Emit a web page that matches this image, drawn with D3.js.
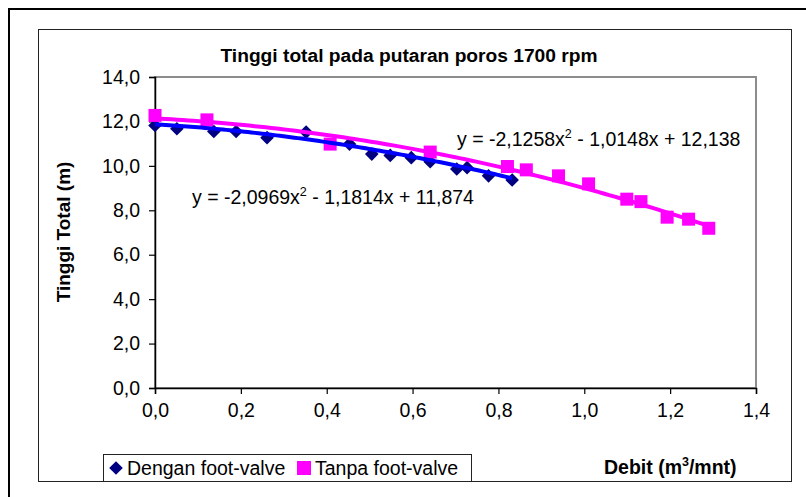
<!DOCTYPE html>
<html>
<head>
<meta charset="utf-8">
<script src="https://cdn.jsdelivr.net/npm/d3@7"></script>
<style>
  html, body { margin: 0; padding: 0; background: #fff; }
  svg { display: block; font-family: "Liberation Sans", Arial, sans-serif; }
</style>
</head>
<body>
<svg id="chart" width="806" height="497"></svg>
<script>
// Debit (m3/mnt) and total head (m) at 1700 rpm
const denganDebit = [0.000, 0.051, 0.137, 0.189, 0.261, 0.352, 0.453, 0.505, 0.548, 0.597, 0.641, 0.703, 0.727, 0.777, 0.832];
const denganHead  = [11.82, 11.67, 11.55, 11.55, 11.27, 11.52, 10.98, 10.53, 10.47, 10.37, 10.19, 9.86, 9.92, 9.55, 9.36];

const tanpaDebit = [0.000, 0.121, 0.408, 0.641, 0.821, 0.865, 0.940, 1.010, 1.099, 1.132, 1.193, 1.243, 1.290];
const tanpaHead  = [12.27, 12.07, 10.98, 10.62, 9.97, 9.82, 9.55, 9.19, 8.50, 8.39, 7.69, 7.60, 7.19];

// Polynomial trendline coefficients [a, b, c] for y = a x^2 + b x + c
const denganFit = [-2.0969, -1.1814, 11.874];
const tanpaFit  = [-2.1258, -1.0148, 12.138];

const xTicks = [0, 0.2, 0.4, 0.6, 0.8, 1.0, 1.2, 1.4];
const yTicks = [0, 2, 4, 6, 8, 10, 12, 14];

const seriesNames = ["Dengan foot-valve", "Tanpa foot-valve"];
const titleText = "Tinggi total pada putaran poros 1700 rpm";

const svg = d3.select("#chart");
const fmt = v => d3.format(".1f")(v).replace(".", ",");
const FS = 19.5;

const plot = { left: 155, right: 756, top: 77, bottom: 388 };
const x = d3.scaleLinear().domain([0, 1.4]).range([plot.left, plot.right]);
const y = d3.scaleLinear().domain([0, 14]).range([plot.bottom, plot.top]);

// outer frame
svg.append("path")
  .attr("d", "M9,497 L9,9 L806,9")
  .attr("fill", "none").attr("stroke", "#000").attr("stroke-width", 2);

// chart area border
svg.append("rect")
  .attr("x", 38.5).attr("y", 29.5).attr("width", 753).attr("height", 452)
  .attr("fill", "#fff").attr("stroke", "#222").attr("stroke-width", 1);

// plot area border
svg.append("rect")
  .attr("x", plot.left).attr("y", plot.top)
  .attr("width", plot.right - plot.left).attr("height", plot.bottom - plot.top)
  .attr("fill", "none").attr("stroke", "#8c8c8c").attr("stroke-width", 2);

// title
svg.append("text")
  .attr("x", 409).attr("y", 62)
  .attr("text-anchor", "middle")
  .attr("font-weight", "bold").attr("font-size", 19.2)
  .text(titleText);

// axes
const yAxis = d3.axisLeft(y).tickValues(yTicks).tickFormat(fmt).tickSize(6).tickPadding(9);
const xAxis = d3.axisBottom(x).tickValues(xTicks).tickFormat(fmt).tickSize(6).tickPadding(9);

const gy = svg.append("g").attr("transform", `translate(${plot.left},0)`).call(yAxis);
const gx = svg.append("g").attr("transform", `translate(0,${plot.bottom})`).call(xAxis);
[gx, gy].forEach(g => {
  g.select(".domain").attr("stroke", "#000").attr("stroke-width", 1.5);
  g.selectAll(".tick line").attr("stroke", "#000").attr("stroke-width", 1.2);
  g.selectAll(".tick text").attr("fill", "#000").attr("font-size", FS)
    .attr("font-family", "Liberation Sans, Arial, sans-serif");
});

// axis titles
svg.append("text")
  .attr("transform", "translate(70,232) rotate(-90)")
  .attr("text-anchor", "middle")
  .attr("font-weight", "bold").attr("font-size", 19)
  .text("Tinggi Total (m)");

const xt = svg.append("text")
  .attr("x", 604).attr("y", 474)
  .attr("font-weight", "bold").attr("font-size", 19.5);
xt.append("tspan").text("Debit (m");
xt.append("tspan").attr("font-size", 12.5).attr("dy", -8).text("3");
xt.append("tspan").attr("dy", 8).text("/mnt)");

// markers
const diamondPath = r => `M0,${-r}L${r},0L0,${r}L${-r},0Z`;
svg.append("g").selectAll("path")
  .data(denganDebit.map((d, i) => [d, denganHead[i]]))
  .join("path")
  .attr("d", diamondPath(6.8))
  .attr("transform", d => `translate(${x(d[0])},${y(d[1])})`)
  .attr("fill", "#000080");

const sq = 13;
svg.append("g").selectAll("rect")
  .data(tanpaDebit.map((d, i) => [d, tanpaHead[i]]))
  .join("rect")
  .attr("x", d => x(d[0]) - sq / 2).attr("y", d => y(d[1]) - sq / 2)
  .attr("width", sq).attr("height", sq)
  .attr("fill", "#ff00ff");

// trendlines
function fitCurve(coef, xmax) {
  const pts = d3.range(0, 101).map(i => {
    const xv = xmax * i / 100;
    return [xv, coef[0] * xv * xv + coef[1] * xv + coef[2]];
  });
  return d3.line().x(d => x(d[0])).y(d => y(d[1]))(pts);
}
svg.append("path").attr("d", fitCurve(tanpaFit, d3.max(tanpaDebit)))
  .attr("fill", "none").attr("stroke", "#ff00ff").attr("stroke-width", 4);
svg.append("path").attr("d", fitCurve(denganFit, d3.max(denganDebit)))
  .attr("fill", "none").attr("stroke", "#0000ff").attr("stroke-width", 4);

// trendline equations
function eqText(coef) {
  const n = v => d3.format(".4~f")(Math.abs(v)).replace(".", ",");
  const s = v => v < 0 ? "-" : "+";
  return [
    `y = ${coef[0] < 0 ? "-" : ""}${n(coef[0])}x`,
    "2",
    ` ${s(coef[1])} ${n(coef[1])}x ${s(coef[2])} ${d3.format(".3f")(coef[2]).replace(".", ",")}`
  ];
}
function drawEq(coef, px, py) {
  const parts = eqText(coef);
  const t = svg.append("text").attr("x", px).attr("y", py).attr("font-size", FS);
  t.append("tspan").text(parts[0]);
  t.append("tspan").attr("font-size", 12.5).attr("dy", -8).text(parts[1]);
  t.append("tspan").attr("dy", 8).text(parts[2]);
}
drawEq(denganFit, 192, 204);
drawEq(tanpaFit, 457, 146);

// legend
const lg = svg.append("g");
lg.append("rect").attr("x", 103.5).attr("y", 454.5).attr("width", 368).attr("height", 27)
  .attr("fill", "#fff").attr("stroke", "#222").attr("stroke-width", 1);
lg.append("path").attr("d", diamondPath(6.8))
  .attr("transform", "translate(116,468)").attr("fill", "#000080");
lg.append("text").attr("x", 127).attr("y", 475).attr("font-size", FS).text(seriesNames[0]);
lg.append("rect").attr("x", 297).attr("y", 461).attr("width", 14).attr("height", 14).attr("fill", "#ff00ff");
lg.append("text").attr("x", 315).attr("y", 475).attr("font-size", FS).text(seriesNames[1]);
</script>
</body>
</html>
